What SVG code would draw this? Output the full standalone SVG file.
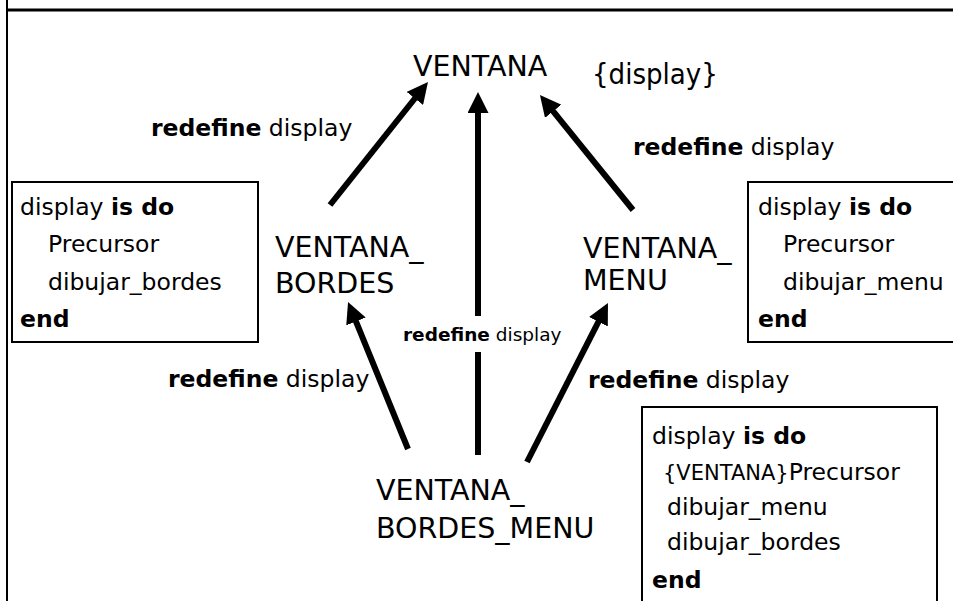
<svg xmlns="http://www.w3.org/2000/svg" width="953" height="601" viewBox="0 0 953 601">
<style>
text{font-family:"DejaVu Sans","Liberation Sans",sans-serif;fill:#000}
.big{font-size:28.5px}
.t{font-size:23.5px}
.sm{font-size:18.5px}
.b{font-weight:bold}
.box{fill:#fff;stroke:#000;stroke-width:2}
.frame{stroke:#000;fill:none}
.conn line{stroke:#000;stroke-width:6}
</style>
<defs>
<marker id="ah" viewBox="0 0 10 10" refX="3" refY="5" markerWidth="3.5" markerHeight="3.5" orient="auto">
<path d="M0,0 L10,5 L0,10 Z" fill="#000"/>
</marker>
</defs>
<rect width="953" height="601" fill="#fff"/>
<g id="frame">
<line class="frame" x1="7" y1="0" x2="7" y2="601" stroke-width="2"/>
<line class="frame" x1="6" y1="10" x2="953" y2="10" stroke-width="3"/>
</g>
<g id="connectors" class="conn">
<line x1="330" y1="205" x2="418.8" y2="93.5" marker-end="url(#ah)"/>
<line x1="478" y1="455" x2="478" y2="106.7" marker-end="url(#ah)"/>
<line x1="633" y1="210" x2="549.2" y2="106.4" marker-end="url(#ah)"/>
<line x1="408" y1="449" x2="353.6" y2="315.6" marker-end="url(#ah)"/>
<line x1="527" y1="462" x2="601.3" y2="316.1" marker-end="url(#ah)"/>
</g>
<g id="labels">
<text class="t" x="151" y="136"><tspan class="b">redefine</tspan> display</text>
<text class="t" x="633" y="155"><tspan class="b">redefine</tspan> display</text>
<text class="t" x="168" y="387"><tspan class="b">redefine</tspan> display</text>
<text class="t" x="588" y="388"><tspan class="b">redefine</tspan> display</text>
<rect x="400" y="316" width="165" height="36" fill="#fff"/>
<text class="sm" x="403" y="341"><tspan class="b">redefine</tspan> display</text>
</g>
<g id="ventana">
<text class="big" x="413" y="76">VENTANA</text>
<text class="big" x="592" y="84" style="font-family:'DejaVu Sans Condensed','DejaVu Sans',sans-serif;font-size:29px">{display}</text>
</g>
<g id="ventana_bordes">
<text class="big" x="275" y="257">VENTANA_</text>
<text class="big" x="275" y="293">BORDES</text>
</g>
<g id="ventana_menu">
<text class="big" x="583" y="258">VENTANA_</text>
<text class="big" x="583" y="290">MENU</text>
</g>
<g id="ventana_bordes_menu">
<text class="big" x="376" y="500">VENTANA_</text>
<text class="big" x="376" y="538">BORDES_MENU</text>
</g>
<g id="box_bordes">
<rect class="box" x="12" y="182" width="246" height="160"/>
<text class="t" x="20" y="215">display <tspan class="b">is do</tspan></text>
<text class="t" x="48" y="252">Precursor</text>
<text class="t" x="48" y="290">dibujar_bordes</text>
<text class="t b" x="20" y="327">end</text>
</g>
<g id="box_menu">
<rect class="box" x="748" y="182" width="210" height="160"/>
<text class="t" x="758" y="215">display <tspan class="b">is do</tspan></text>
<text class="t" x="783" y="252">Precursor</text>
<text class="t" x="783" y="290">dibujar_menu</text>
<text class="t b" x="758" y="327">end</text>
</g>
<g id="box_bordes_menu">
<rect class="box" x="642" y="407" width="295" height="200"/>
<text class="t" x="652" y="444">display <tspan class="b">is do</tspan></text>
<text class="t" x="663" y="480"><tspan style="font-size:21px">{VENTANA}</tspan>Precursor</text>
<text class="t" x="667" y="515">dibujar_menu</text>
<text class="t" x="667" y="550">dibujar_bordes</text>
<text class="t b" x="652" y="588">end</text>
</g>
</svg>
